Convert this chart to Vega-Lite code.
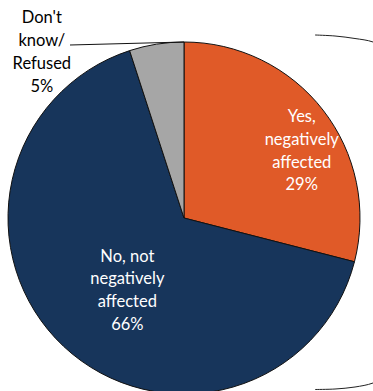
{
  "$schema": "https://vega.github.io/schema/vega-lite/v6.json",
  "width": 368,
  "height": 364,
  "autosize": {"type": "none"},
  "padding": {"left": 0, "top": 36, "right": 5, "bottom": 0},
  "background": "white",
  "config": {"view": {"stroke": null}, "font": "Lato"},
  "datasets": {
    "slices": [
      {"category": "Yes, negatively affected", "label": ["Yes,", "negatively", "affected", "29%"], "share": 29, "order": 1},
      {"category": "No, not negatively affected", "label": ["No, not", "negatively", "affected", "66%"], "share": 66, "order": 2},
      {"category": "Don't know/Refused", "label": ["Don't", "know/", "Refused", "5%"], "share": 5, "order": 3}
    ],
    "lines": [
      {"part": "leader", "i": 1, "x": 70, "y": 45},
      {"part": "leader", "i": 2, "x": 184, "y": 42},
      {"part": "bracket", "i": 1, "x": 315, "y": 35},
      {"part": "bracket", "i": 2, "x": 335, "y": 36},
      {"part": "bracket", "i": 3, "x": 355, "y": 38.5},
      {"part": "bracket", "i": 4, "x": 373, "y": 42},
      {"part": "bracket", "i": 5, "x": 392, "y": 52},
      {"part": "bracket", "i": 6, "x": 402, "y": 80},
      {"part": "bracket", "i": 7, "x": 402, "y": 345},
      {"part": "bracket", "i": 8, "x": 392, "y": 373},
      {"part": "bracket", "i": 9, "x": 373, "y": 383},
      {"part": "bracket", "i": 10, "x": 355, "y": 387},
      {"part": "bracket", "i": 11, "x": 335, "y": 389},
      {"part": "bracket", "i": 12, "x": 315, "y": 389.5}
    ]
  },
  "layer": [
    {
      "data": {"name": "slices"},
      "mark": {"type": "arc", "outerRadius": 176, "stroke": "#111111", "strokeWidth": 1},
      "encoding": {
        "theta": {"field": "share", "type": "quantitative", "stack": true},
        "order": {"field": "order", "type": "quantitative"},
        "color": {
          "field": "category",
          "type": "nominal",
          "scale": {
            "domain": ["Yes, negatively affected", "No, not negatively affected", "Don't know/Refused"],
            "range": ["#E05A28", "#17355B", "#A6A6A6"]
          },
          "legend": null
        }
      }
    },
    {
      "data": {"name": "slices"},
      "mark": {"type": "text", "radius": 130, "dx": 15, "dy": -21, "fill": "white", "fontSize": 16.5, "align": "center", "baseline": "middle", "lineHeight": 22.7},
      "encoding": {
        "theta": {"field": "share", "type": "quantitative", "stack": true},
        "order": {"field": "order", "type": "quantitative"},
        "text": {"condition": {"test": "datum.order === 1", "field": "label"}, "value": ""}
      }
    },
    {
      "data": {"name": "slices"},
      "mark": {"type": "text", "radius": 93, "dx": 7, "dy": -29, "fill": "white", "fontSize": 16.5, "align": "center", "baseline": "middle", "lineHeight": 22.7},
      "encoding": {
        "theta": {"field": "share", "type": "quantitative", "stack": true},
        "order": {"field": "order", "type": "quantitative"},
        "text": {"condition": {"test": "datum.order === 2", "field": "label"}, "value": ""}
      }
    },
    {
      "data": {"name": "slices"},
      "mark": {"type": "text", "radius": 180, "dx": -114, "dy": -22, "fill": "black", "fontSize": 16.5, "align": "center", "baseline": "middle", "lineHeight": 23},
      "encoding": {
        "theta": {"field": "share", "type": "quantitative", "stack": true},
        "order": {"field": "order", "type": "quantitative"},
        "text": {"condition": {"test": "datum.order === 3", "field": "label"}, "value": ""}
      }
    },
    {
      "data": {"name": "lines"},
      "transform": [{"filter": "datum.part === 'leader'"}],
      "mark": {"type": "line", "stroke": "#111111", "strokeWidth": 1},
      "encoding": {
        "x": {"field": "x", "type": "quantitative", "scale": {"domain": [0, 368], "range": [0, 368]}, "axis": null},
        "y": {"field": "y", "type": "quantitative", "scale": {"domain": [36, 400], "range": [0, 364]}, "axis": null},
        "order": {"field": "i", "type": "quantitative"}
      }
    },
    {
      "data": {"name": "lines"},
      "transform": [{"filter": "datum.part === 'bracket'"}],
      "mark": {"type": "line", "stroke": "#222222", "strokeWidth": 1, "interpolate": "catmull-rom"},
      "encoding": {
        "x": {"field": "x", "type": "quantitative", "scale": {"domain": [0, 368], "range": [0, 368]}, "axis": null},
        "y": {"field": "y", "type": "quantitative", "scale": {"domain": [36, 400], "range": [0, 364]}, "axis": null},
        "order": {"field": "i", "type": "quantitative"}
      }
    }
  ]
}
